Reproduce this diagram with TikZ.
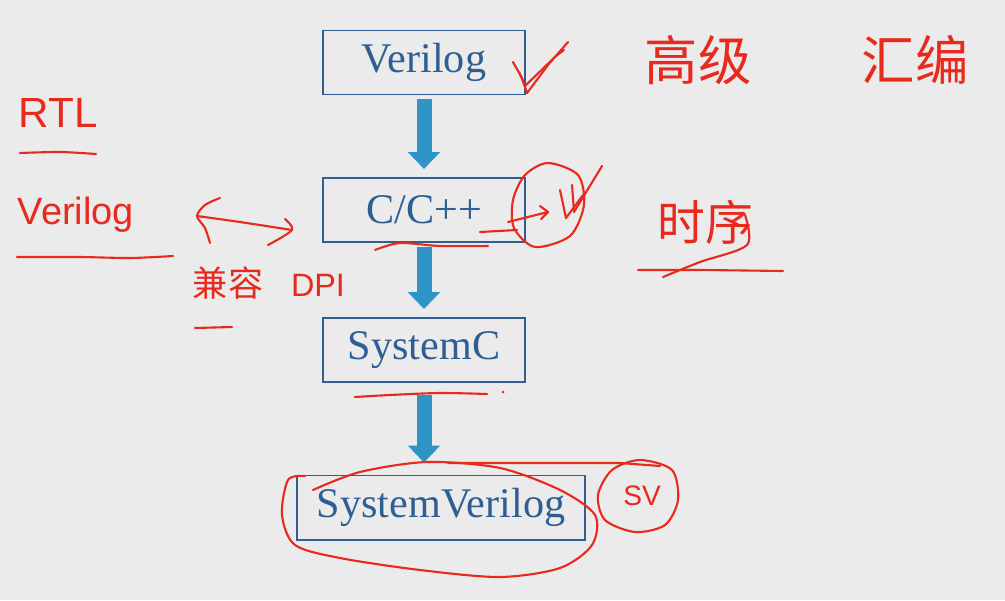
\documentclass[tikz,border=0pt]{standalone}
\usepackage{fontspec}
\setmainfont{Liberation Serif}
\newfontfamily\handfont{Liberation Sans}
\newfontfamily\cjk{Noto Sans CJK SC}
\usepackage{xcolor}
\usetikzlibrary{positioning,arrows.meta}

\definecolor{slidebg}{HTML}{EBEBEB}
\definecolor{boxblue}{HTML}{2E5E92}
\definecolor{flowblue}{HTML}{2E95C6}
\definecolor{ink}{HTML}{E8291E}

\tikzset{
  box/.style={draw=boxblue, line width=1.4pt, text=boxblue, minimum height=1.6cm,
    font=\fontsize{30}{34}\selectfont},
  flow/.style={draw=flowblue, line width=0.375cm, -{Triangle[width=0.78cm, length=0.42cm]}},
  pen/.style={draw=ink, line width=1.5pt, line cap=round, line join=round},
  scrawl/.style={text=ink, inner sep=0pt}
}

\begin{document}
\begin{tikzpicture}[x=0.025cm, y=-0.025cm]
  \useasboundingbox[fill=slidebg] (0,0) rectangle (1005,600);

  % Nodes
  \node[box, minimum width=5.05cm] (verilog) at (424,62.5) {Verilog};
  \node[box, minimum width=5.05cm] (cpp) at (424,210) {C/C++};
  \node[box, minimum width=5.05cm] (systemc) at (424,350) {SystemC};
  \node[box, minimum width=7.175cm] (sv) at (441,507.5) {SystemVerilog};

  % Flow arrows
  \draw[flow, shorten <=0.1cm, shorten >=0.2cm] (verilog.south) -- (verilog.south |- cpp.north);
  \draw[flow, shorten <=0.1cm, shorten >=0.2cm] (cpp.south) -- (cpp.south |- systemc.north);
  \draw[flow, shorten <=0.3cm, shorten >=0.3cm] (systemc.south) -- (systemc.south |- sv.north);

  % Handwritten notes
  \node[scrawl, font=\cjk\fontsize{38}{40}\selectfont] (gaoji) at (698,60) {高级};
  \node[scrawl, font=\cjk\fontsize{38}{40}\selectfont] (huibian) at (915,60) {汇编};
  \node[scrawl, font=\handfont\fontsize{30}{32}\selectfont] (rtl) at (58,113) {RTL};
  \node[scrawl, font=\handfont\fontsize{27}{30}\selectfont] (hverilog) at (76,215) {Verilog};
  \node[scrawl, font=\cjk\fontsize{25}{27}\selectfont] (jianrong) at (228,283) {兼容};
  \node[scrawl, font=\handfont\fontsize{23}{25}\selectfont] (dpi) at (318,285) {DPI};
  \node[scrawl, font=\cjk\fontsize{34}{36}\selectfont] (shixu) at (705,222) {时序};

  % underlines
  \draw[pen] plot[smooth] coordinates {(20,153) (60,152) (96,154)};
  \draw[pen] plot[smooth] coordinates {(17,257) (80,257) (130,258) (173,256)};
  \draw[pen] (195,328) -- (232,327);
  \draw[pen] plot[smooth] coordinates {(638,270) (700,270) (783,271)};
  \draw[pen] plot[smooth] coordinates {(745,215) (747,245) (700,262) (663,277)};
  \draw[pen] plot[smooth] coordinates {(375,250) (400,243) (440,246) (488,246)};
  \draw[pen] plot[smooth] coordinates {(355,397) (390,395) (440,393) (487,394)};
  \fill[ink] (503,392) circle (1.5);

  % double arrow
  \draw[pen] plot[smooth] coordinates {(197,216) (240,222) (292,230)};
  \draw[pen] plot[smooth] coordinates {(220,198) (205,205) (197,216) (205,228) (210,243)};
  \draw[pen] plot[smooth] coordinates {(285,219) (292,230) (268,245)};

  % ticks and circles
  \draw[pen] (513,62) -- (522,78) -- (527,93) -- (548,65) -- (568,42);
  \draw[pen] (519,72) -- (525,86) -- (556,56) -- (564,50);
  \draw[pen] plot[smooth cycle] coordinates {(548,163) (578,175) (584,205) (570,236) (535,247) (514,228) (513,200) (525,175)};
  \draw[pen] (480,232) -- (517,230);
  \draw[pen] (508,222) -- (548,212);
  \draw[pen] (540,206) -- (548,212) -- (541,219);
  \draw[pen] (560,190) -- (566,218) -- (583,195);
  \draw[pen] (572,185) -- (574,212) -- (602,166);
  \draw[pen] plot[smooth] coordinates {(313,490) (360,472) (427,462) (500,468) (560,490) (595,515) (592,545) (560,568) (500,577) (420,570) (340,558) (295,545) (282,515) (288,480) (305,476)};
  \draw[pen] (448,463) -- (620,463) -- (660,466);
  \draw[pen] plot[smooth cycle] coordinates {(640,460) (672,470) (678,500) (665,525) (635,532) (605,520) (598,495) (612,470)};
  \node[scrawl, font=\handfont\fontsize{20}{22}\selectfont] (svnote) at (642,496) {SV};
\end{tikzpicture}
\end{document}
